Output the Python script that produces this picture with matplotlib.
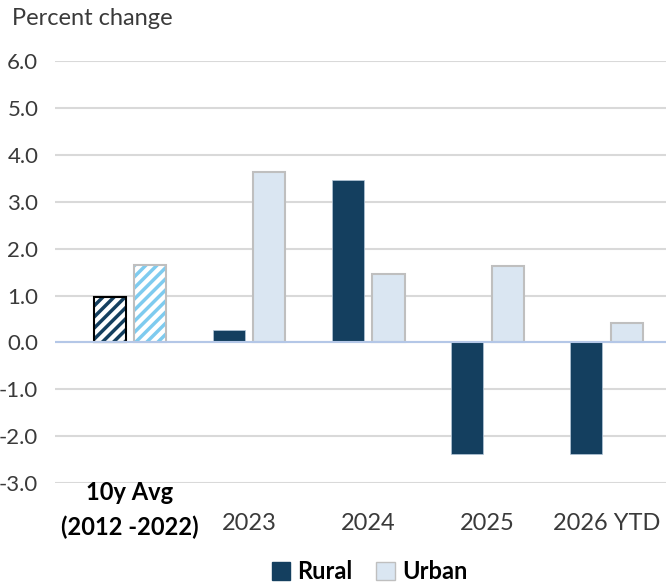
import numpy as np
import matplotlib.pyplot as plt
import matplotlib.patches as mpatches

categories = ['10y Avg\n(2012 -2022)', '2023', '2024', '2025', '2026 YTD']
rural = [0.97, 0.27, 3.47, -2.38, -2.38]
urban = [1.66, 3.64, 1.45, 1.62, 0.42]
yticks = [-3.0, -2.0, -1.0, 0.0, 1.0, 2.0, 3.0, 4.0, 5.0, 6.0]

navy = '#143f5f'
light = '#dae6f2'
sky = '#7ecbef'
grey_edge = '#bfbfbf'
txt = '#3a3a3a'

plt.rcParams['font.family'] = ['Lato', 'DejaVu Sans']
plt.rcParams['hatch.linewidth'] = 2.5

fig = plt.figure(figsize=(6.66, 5.82), dpi=100)
ax = fig.add_axes([0.0826, 0.170, 0.9174, 0.725])

x = np.arange(len(categories))
w = 0.27
off = 0.17

# historical average drawn hatched
ax.bar(x[0] - off, rural[0], w, color='white', edgecolor=navy, hatch='///', linewidth=0, zorder=3)
ax.bar(x[0] - off, rural[0], w, fill=False, edgecolor='black', linewidth=1.5, zorder=4)
ax.bar(x[0] + off, urban[0], w, color='white', edgecolor=sky, hatch='///', linewidth=0, zorder=3)
ax.bar(x[0] + off, urban[0], w, fill=False, edgecolor=grey_edge, linewidth=1.5, zorder=4)

ax.bar(x[1:] - off, rural[1:], w, color=navy, edgecolor='#b4c7d9', linewidth=0.5, zorder=3)
ax.bar(x[1:] + off, urban[1:], w, color=light, edgecolor=grey_edge, linewidth=1.5, zorder=3)

ax.set_xlim(-0.63, 4.5)
ax.set_ylim(-3.0, 6.0)
ax.set_yticks(yticks)
ax.set_yticklabels([f'{v:.1f}' for v in yticks], fontsize=16, color=txt)
ax.yaxis.grid(True, color='#d9d9d9', linewidth=1.5, zorder=0)
ax.axhline(0, color='#b4c7e7', linewidth=1.5, zorder=5)
ax.tick_params(axis='y', length=0, pad=12)
ax.tick_params(axis='x', length=0)
ax.set_xticks([])
for s in ax.spines.values():
    s.set_visible(False)

ax.text(x[0], -3.20, '10y Avg', ha='center', va='center', fontsize=17, fontweight='bold',
        color='black', clip_on=False)
ax.text(x[0], -3.95, '(2012 -2022)', ha='center', va='center', fontsize=17, fontweight='bold',
        color='black', clip_on=False)
for i in range(1, len(categories)):
    ax.text(x[i], -3.87, categories[i], ha='center', va='center', fontsize=17, color=txt,
            clip_on=False)

fig.text(0.018, 0.968, 'Percent change', fontsize=17, color=txt, va='center')

handles = [mpatches.Patch(facecolor=navy, edgecolor=navy, label='Rural'),
           mpatches.Patch(facecolor=light, edgecolor=grey_edge, label='Urban')]
fig.legend(handles=handles, loc='center', bbox_to_anchor=(0.555, 0.018), ncol=2,
           frameon=False, handlelength=0.8, handleheight=0.8,
           handletextpad=0.3, columnspacing=1.0, prop={'weight': 'bold', 'size': 17})

fig.savefig('out.png', dpi=100)
